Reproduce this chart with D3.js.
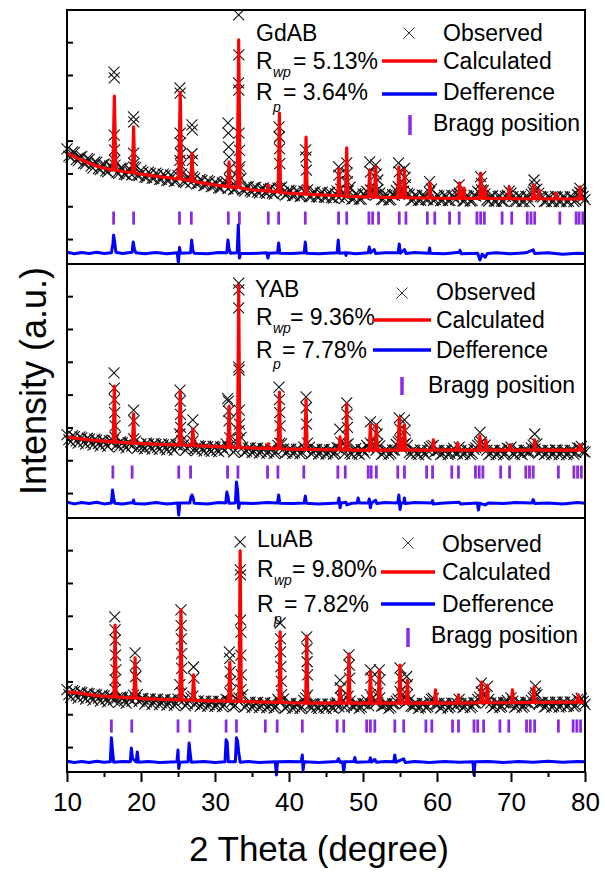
<!DOCTYPE html>
<html><head><meta charset="utf-8">
<script src="https://cdn.jsdelivr.net/npm/d3@7"></script>
<style>
body{margin:0;background:#fff}
svg{display:block}
text{font-family:Arial,"Liberation Sans",Helvetica,sans-serif;fill:#000}
</style>
</head><body>
<svg id="c" width="605" height="874"></svg>
<script>
// ---------------- DATA ----------------
const xTicks = [10,20,30,40,50,60,70,80];
const xMinorTicks = [15,25,35,45,55,65,75];
const yTicks = [0,10,20,30,40,50,60];
const samples = ["GdAB","YAB","LuAB"];
const rwpValues = ["= 5.13%","= 9.36%","= 9.80%"];
const rpValues = ["= 3.64%","= 7.78%","= 7.82%"];
const legendLabels = ["Observed","Calculated","Defference","Bragg position"];
const xTitle = "2 Theta (degree)";
const yTitle = "Intensity (a.u.)";

// observed background band: grid A from 10.00 deg, grid B from 10.25 deg, both every 0.5 deg
const bandStartA = 10, bandStartB = 10.25, bandStep = 0.5;
const obsBandGd = [
27.5,25.0,26.4,23.8,25.2,22.9,24.3,21.6,23.4,21.2,
22.8,20.5,22.0,22.5,20.0,21.5,19.6,21.2,22.0,19.4,
20.9,18.9,20.4,18.6,20.1,18.2,19.8,17.9,19.5,17.6,
19.3,19.8,17.2,18.7,19.0,16.8,18.2,16.3,17.8,16.0,
17.4,15.6,17.1,17.5,18.0,15.1,17.0,18.5,14.6,16.0,
14.3,15.8,14.1,15.6,13.9,15.4,13.7,15.5,15.8,13.4,
14.9,13.2,14.7,13.0,14.6,15.0,12.9,14.4,12.8,14.3,
12.7,14.2,12.5,14.6,15.2,12.4,14.8,12.2,13.8,12.1,
13.7,14.5,15.0,14.2,15.1,12.0,13.6,11.9,13.5,14.8,
15.2,14.6,13.9,11.8,13.4,11.8,13.4,12.0,14.2,11.8,
13.4,11.7,13.3,11.7,13.3,12.0,14.1,11.6,13.2,11.6,
13.3,14.5,15.0,13.8,11.6,13.2,11.5,13.1,11.5,13.4,
14.0,11.5,13.1,11.4,13.0,11.4,14.3,15.2,13.0,11.4,
13.0,11.4,13.0,11.4,12.9,11.4,12.9,11.4,13.5,14.0,
12.0];
const obsBandGdB = [
25.3,26.6,24.2,25.0,23.1,24.5,22.2,23.5,21.5,22.6,
20.8,22.3,21.5,20.2,21.6,19.8,21.0,19.6,21.8,19.3,
20.4,18.8,20.0,18.5,19.7,18.2,19.4,17.9,19.1,17.7,
24.0,17.5,18.8,17.2,18.5,16.9,17.9,16.5,17.5,16.2,
16.9,15.5,16.7,15.4,16.3,15.2,21.0,15.0,15.9,14.7,
15.6,14.4,15.3,14.2,15.1,14.0,14.9,15.5,14.3,13.8,
14.6,13.3,14.4,13.2,14.3,12.9,14.2,12.9,14.0,12.8,
13.9,12.6,13.8,12.7,14.0,13.2,15.8,12.3,13.5,12.2,
13.4,13.9,14.8,13.5,14.0,12.1,13.4,12.0,13.3,16.0,
14.2,16.5,13.6,12.0,13.2,11.9,13.2,12.0,15.2,12.0,
13.1,11.8,13.1,11.8,13.0,13.5,13.4,11.7,13.0,11.7,
13.1,14.0,14.8,11.9,13.0,11.6,13.0,11.6,13.0,14.6,
12.9,11.5,12.9,11.5,12.9,13.6,14.8,14.0,12.8,11.5,
12.8,11.5,12.8,11.5,12.8,11.5,12.8,11.8,14.3,13.0];
const obsBandY = [
17.8,15.6,17.2,15.2,16.8,14.9,16.4,14.6,16.1,14.4,
15.9,14.2,15.6,17.0,14.0,15.4,13.8,15.2,16.5,13.6,
15.0,13.5,14.9,13.4,14.8,13.3,14.7,13.2,14.6,13.1,
14.5,16.0,13.0,14.3,15.8,12.9,14.2,12.8,14.1,12.7,
14.0,12.6,13.9,15.0,16.8,12.5,15.5,17.0,12.4,13.7,
12.3,13.6,12.2,13.5,12.2,13.4,12.1,14.5,15.0,12.1,
13.3,12.0,13.3,12.0,14.0,15.2,12.0,13.2,11.9,13.2,
11.9,13.1,11.9,13.8,15.5,12.0,15.0,11.8,13.5,11.8,
13.1,14.5,15.2,14.0,15.0,11.8,13.1,11.8,13.1,14.8,
16.0,14.8,14.5,11.8,13.0,11.7,13.0,11.7,13.8,14.5,
12.9,11.7,13.0,11.7,13.0,12.2,14.0,11.7,13.0,11.7,
13.3,14.5,15.5,14.6,11.7,13.0,11.7,13.0,11.7,13.6,
14.0,11.7,13.0,11.7,13.0,12.5,14.6,15.0,12.9,11.7,
13.0,11.7,13.2,11.7,13.0,11.7,13.0,11.8,13.8,14.2,
12.5];
const obsBandYB = [
16.3,17.5,15.9,17.1,15.6,16.7,15.3,16.4,15.1,16.1,
14.9,15.9,16.0,14.8,15.6,14.5,15.4,14.3,15.8,14.2,
14.1,15.2,14.0,15.1,13.9,15.0,13.8,14.9,13.7,14.8,
18.0,14.7,13.6,14.6,13.5,14.4,13.4,14.3,13.2,14.2,
13.1,14.1,13.0,14.0,15.0,13.0,19.0,13.9,12.8,13.8,
12.7,13.7,12.6,13.6,12.6,13.5,12.5,15.2,13.4,12.5,
13.4,12.4,13.4,12.4,13.3,13.9,12.4,13.3,12.3,13.3,
12.3,13.2,12.3,13.7,13.3,14.6,12.2,13.2,12.2,13.2,
12.2,13.8,14.6,13.1,14.4,12.2,13.1,12.2,13.1,15.6,
13.6,15.2,12.3,13.1,12.1,13.1,12.1,13.0,14.2,12.6,
13.0,12.1,13.0,12.1,13.6,12.1,13.0,12.1,13.0,12.1,
13.8,15.0,14.0,13.1,12.1,13.0,12.1,13.0,12.1,13.4,
12.1,13.0,12.1,13.0,12.4,13.8,13.4,12.1,13.0,12.1,
13.0,12.1,13.0,12.1,13.0,12.1,13.0,12.4,13.6,12.7];
const obsBandLu = [
17.5,15.2,16.9,14.9,16.6,14.6,16.2,14.3,15.9,14.0,
15.6,13.8,15.4,17.5,13.6,15.1,13.4,14.9,15.8,16.0,
14.7,13.1,14.6,13.0,14.5,12.9,14.4,12.8,14.3,12.7,
14.6,16.5,12.6,14.1,15.5,13.5,12.5,14.0,12.4,13.9,
12.4,13.9,12.3,14.5,16.5,12.3,14.5,17.5,12.2,13.6,
12.1,13.5,12.0,13.4,12.0,13.3,11.9,14.5,16.0,11.9,
13.2,11.8,13.2,11.8,14.2,15.8,11.8,13.1,11.8,13.1,
11.8,13.1,11.8,13.5,15.0,12.0,15.5,12.5,13.1,11.8,
13.2,14.2,16.0,14.0,16.5,12.5,13.2,11.8,13.2,14.0,
17.0,15.0,16.0,12.5,13.2,11.8,13.3,12.0,13.8,14.8,
13.0,11.9,13.3,11.9,13.4,12.5,14.5,12.0,13.4,12.0,
13.5,14.5,16.8,15.5,14.5,12.0,13.5,12.1,13.5,14.2,
15.0,12.1,13.6,12.1,13.6,13.0,15.0,16.0,13.5,12.2,
13.7,12.2,13.7,12.2,13.7,12.3,13.8,12.3,14.5,14.8,
13.0];
const obsBandLuB = [
16.0,17.2,15.7,16.8,15.4,16.4,15.1,16.1,14.9,15.8,
14.6,15.5,14.4,14.9,15.3,14.1,15.0,14.0,14.9,13.9,
14.8,13.7,14.7,13.6,14.6,13.5,14.5,13.4,14.4,13.3,
19.0,14.3,13.2,15.0,13.1,14.1,13.0,14.0,12.9,13.9,
12.8,13.9,12.8,14.2,13.7,12.7,15.0,16.0,12.6,13.7,
12.6,13.6,12.5,13.5,12.4,13.4,12.4,13.9,14.6,12.3,
13.3,12.3,13.2,12.2,15.0,12.8,13.2,12.2,13.1,12.2,
13.1,12.2,13.1,12.3,14.2,12.7,14.0,12.3,13.2,12.2,
13.2,12.6,14.9,13.5,15.0,12.6,13.2,12.2,13.2,14.6,
15.8,13.5,14.2,12.3,13.2,12.2,13.3,12.3,14.5,13.0,
13.3,12.3,13.3,12.3,13.3,13.2,13.3,12.3,13.4,12.4,
13.4,15.2,15.8,13.6,13.4,12.4,13.5,12.4,13.5,13.0,
14.0,12.5,13.5,12.5,13.6,14.2,15.3,13.2,13.6,12.5,
13.6,12.5,13.7,12.5,13.7,12.6,13.7,12.6,14.0,13.9];

// observed points on the peaks [2theta, intensity]
const obsPeakGd = [[16.35,50.9],[16.4,49.1],[16.38,31.7],[16.42,27.2],[16.45,24.0],
[18.98,37.2],[19.02,35.7],[19.0,26.2],[19.05,23.0],
[25.25,46.1],[25.3,44.5],[25.28,32.3],[25.32,29.3],[25.35,26.0],[25.4,22.5],
[26.88,34.8],[26.92,33.3],[26.9,26.0],[26.95,24.0],
[31.75,35.4],[31.8,32.3],[31.85,28.1],[31.9,25.0],[31.95,21.5],
[33.2,68.3],[33.22,56.1],[33.18,47.6],[33.22,45.4],[33.25,32.3],[33.3,27.0],[33.35,22.0],
[38.65,34.2],[38.7,31.1],[38.72,27.5],[38.75,23.0],
[42.25,27.2],[42.3,25.0],[42.35,21.0],
[46.7,22.0],[46.75,19.5],
[47.8,23.2],[47.85,20.1],[47.9,17.5],
[50.9,23.5],[51.0,20.5],[51.7,22.6],[51.8,19.8],[52.0,18.0],
[54.8,23.2],[54.9,20.5],[55.6,21.5],[55.7,18.8],
[59.0,17.5],[63.0,16.5],[65.9,19.0],[66.0,17.0],[73.1,18.0],[73.2,16.5],[79.3,15.5]];
const obsPeakY = [[16.35,36.6],[16.4,32.0],[16.42,28.5],[16.45,24.5],[16.5,20.5],
[19.0,25.3],[19.05,22.0],
[25.28,31.4],[25.3,28.0],[25.33,24.0],[25.36,20.0],
[27.0,22.3],[27.05,19.5],
[31.7,28.8],[31.8,28.0],[31.85,25.0],[31.9,22.0],
[33.2,64.0],[33.22,61.9],[33.2,56.4],[33.22,38.4],[33.25,37.5],[33.28,25.3],[33.3,21.0],
[38.65,32.3],[38.7,28.5],[38.75,24.5],[38.8,20.5],
[42.3,29.3],[42.33,26.0],[42.38,21.0],
[46.85,19.5],
[47.8,27.5],[47.85,24.0],[47.9,20.0],
[51.0,21.7],[51.8,20.8],[51.9,18.0],
[54.9,22.9],[55.0,19.5],[55.6,22.3],[55.7,19.0],
[65.8,18.5],[73.2,18.0]];
const obsPeakLu = [[16.45,39.7],[16.5,35.7],[16.52,32.6],[16.55,28.0],[16.6,23.5],[16.5,20.5],
[19.2,28.7],[19.25,25.0],[19.3,21.5],
[25.4,41.8],[25.42,37.0],[25.45,33.0],[25.48,28.5],[25.5,24.0],
[27.1,24.4],[27.15,21.0],
[31.95,29.0],[32.0,27.0],[32.05,23.0],[32.1,20.0],
[33.4,62.5],[33.42,54.0],[33.45,52.5],[33.45,38.7],[33.5,35.0],[33.5,28.0],[33.55,22.0],
[38.8,37.8],[38.85,33.0],[38.85,29.0],[38.9,24.5],[38.95,20.0],
[42.4,33.6],[42.45,30.0],[42.45,26.0],[42.5,22.0],
[46.9,20.4],[46.95,18.0],
[48.1,28.1],[48.15,25.0],[48.2,21.0],
[51.0,23.5],[51.1,21.0],[52.2,23.5],[52.3,20.5],
[55.0,24.1],[55.1,21.0],[55.9,21.5],[56.0,19.0],
[66.0,19.5],[66.8,18.5],[73.3,18.6],[73.3,16.5]];

// calculated profiles [2theta, intensity]
const calcGd = [[10,26.2],[11,25.1],[12,24.1],[13,23.1],[14,22.3],[15,21.6],[16.2,21.0],[16.4,43.6],[16.6,20.9],[18,20.5],[18.85,20.3],[19.0,34.2],[19.15,20.2],[20,19.8],[22,19.2],[24,18.6],[25.1,18.3],[25.3,44.8],[25.5,18.2],[26.75,17.8],[26.9,26.2],[27.05,17.7],[28,17.2],[30,16.5],[31.75,16.0],[31.9,23.5],[32.05,15.9],[33.0,15.7],[33.2,60.7],[33.4,15.6],[35,15.0],[37.1,14.6],[37.2,16.5],[37.3,14.6],[38.55,14.4],[38.7,38.4],[38.85,14.3],[40,14.0],[42.15,13.7],[42.3,31.1],[42.45,13.6],[45,13.4],[46.6,13.2],[46.75,21.5],[46.9,13.2],[47.65,13.1],[47.8,27.8],[47.95,13.0],[50.75,12.8],[50.9,21.1],[51.05,12.9],[51.55,12.8],[51.7,22.0],[51.85,12.8],[54.7,12.6],[54.85,22.0],[55.0,12.7],[55.45,12.7],[55.6,21.1],[55.75,12.6],[58.9,12.5],[59.05,17.1],[59.2,12.5],[62.9,12.4],[63.05,17.1],[63.2,12.4],[63.55,12.4],[63.65,15.5],[63.75,12.4],[65.75,12.4],[65.9,20.1],[66.05,12.5],[66.4,12.4],[66.5,15.5],[66.6,12.4],[69.6,12.3],[69.75,16.0],[69.9,12.3],[72.9,12.2],[73.05,16.5],[73.2,12.3],[73.7,12.3],[73.8,15.0],[73.9,12.3],[76.0,12.2],[76.1,14.0],[76.2,12.2],[79.2,12.2],[79.35,15.9],[79.5,12.2],[80,12.2]];
const calcY = [[10,17.1],[11.5,16.6],[13,16.2],[14.5,15.9],[16.25,15.6],[16.4,32.6],[16.55,15.5],[18.85,15.2],[19.0,24.1],[19.15,15.2],[21,15.0],[23,14.8],[25.15,14.7],[25.3,31.1],[25.45,14.7],[26.85,14.5],[27.0,19.5],[27.15,14.5],[29,14.3],[31.75,14.0],[31.9,26.5],[32.05,14.0],[33.05,13.9],[33.2,63.4],[33.35,13.9],[35,13.7],[37.1,13.6],[37.2,15.0],[37.3,13.6],[38.55,13.5],[38.7,30.8],[38.85,13.5],[40,13.4],[42.15,13.3],[42.3,28.4],[42.45,13.3],[45,13.2],[46.75,13.2],[46.9,17.1],[47.05,13.2],[47.65,13.2],[47.8,27.2],[47.95,13.1],[50.85,13.1],[51.0,20.8],[51.15,13.1],[51.65,13.1],[51.8,20.8],[51.95,13.1],[54.75,13.1],[54.9,22.9],[55.05,13.1],[55.45,13.1],[55.6,20.8],[55.75,13.1],[59.35,13.1],[59.5,16.2],[59.65,13.1],[62.65,13.1],[62.8,15.3],[62.95,13.1],[65.65,13.1],[65.8,17.4],[65.95,13.1],[66.45,13.1],[66.6,16.2],[66.75,13.1],[69.75,13.1],[69.9,14.7],[70.05,13.1],[73.05,13.1],[73.2,16.2],[73.35,13.1],[79.15,13.1],[79.3,14.7],[79.45,13.1],[80,13.1]];
const calcLu = [[10,16.8],[11.5,16.5],[13,16.0],[14.5,15.6],[16.35,15.3],[16.5,37.2],[16.65,15.3],[19.05,14.9],[19.2,27.2],[19.35,14.9],[21,14.7],[23,14.5],[25.25,14.4],[25.4,41.8],[25.55,14.3],[26.95,14.3],[27.1,22.0],[27.25,14.2],[29,14.1],[31.85,14.0],[32.0,25.9],[32.15,14.0],[33.25,13.9],[33.4,59.8],[33.55,13.9],[35,13.8],[38.65,13.6],[38.8,35.1],[38.95,13.6],[40,13.5],[42.25,13.4],[42.4,33.9],[42.55,13.4],[45,13.4],[46.75,13.4],[46.9,18.3],[47.05,13.4],[47.95,13.4],[48.1,28.4],[48.25,13.4],[50.85,13.4],[51.0,22.9],[51.15,13.4],[52.05,13.4],[52.2,23.5],[52.35,13.4],[54.85,13.4],[55.0,25.0],[55.15,13.4],[55.85,13.4],[56.0,20.4],[56.15,13.4],[59.65,13.4],[59.8,17.4],[59.95,13.4],[62.75,13.4],[62.9,15.9],[63.05,13.4],[65.85,13.5],[66.0,19.8],[66.15,13.5],[66.65,13.5],[66.8,18.9],[66.95,13.5],[70.05,13.5],[70.2,17.4],[70.35,13.5],[72.95,13.6],[73.1,18.3],[73.25,13.6],[78.95,13.7],[79.1,15.9],[79.25,13.7],[80,13.7]];

// difference curves [2theta, intensity]
const diffGd = [[10,-4.0],[11,-4.5],[12,-4.1],[13,-4.4],[14,-4.0],[15,-4.4],[16.0,-4.2],[16.2,-1.5],[16.3,1.2],[16.45,-1.0],[16.6,-4.0],[17.5,-4.4],[18.8,-4.0],[18.95,-0.9],[19.1,-3.0],[19.3,-4.2],[20.5,-4.5],[22,-4.1],[23.5,-4.5],[24.9,-4.2],[25.05,-7.3],[25.2,-2.6],[25.35,-4.3],[26.7,-4.2],[26.85,-0.3],[27.0,-3.5],[27.2,-4.3],[29,-4.5],[30.5,-4.1],[31.6,-4.2],[31.75,-0.3],[31.9,-3.0],[32.1,-4.3],[33.0,-4.2],[33.15,4.3],[33.3,-5.8],[33.45,-4.3],[35,-4.4],[37.0,-4.2],[37.15,-5.8],[37.3,-4.3],[38.45,-4.2],[38.6,-1.2],[38.75,-4.3],[40.5,-4.4],[42.05,-4.2],[42.2,-0.9],[42.35,-4.3],[44,-4.5],[46.5,-4.2],[46.65,-0.3],[46.8,-4.3],[47.6,-4.2],[47.7,-5.0],[47.8,-4.2],[49,-4.5],[50.7,-4.2],[50.85,-2.4],[51.0,-4.2],[51.5,-3.2],[51.7,-4.4],[53,-4.2],[54.75,-4.2],[54.9,-1.5],[55.05,-4.3],[55.6,-3.2],[55.8,-4.4],[57,-4.1],[58.9,-4.3],[59.0,-2.7],[59.1,-4.3],[61,-4.5],[63.0,-4.0],[63.1,-3.4],[63.3,-4.5],[65.5,-4.3],[65.8,-6.4],[66.1,-4.6],[66.5,-5.5],[66.8,-4.4],[68,-4.2],[70,-4.5],[72,-4.2],[73.0,-3.3],[73.2,-4.4],[75,-4.2],[77,-4.6],[79,-4.3],[80,-4.4]];
const diffY = [[10,-2.8],[11,-3.3],[12,-2.9],[13,-3.2],[14,-2.8],[15,-3.3],[16.0,-3.0],[16.15,0.9],[16.3,-1.5],[16.45,-3.1],[17.5,-3.3],[18.9,-2.9],[19.0,-2.1],[19.1,-3.2],[20.5,-3.3],[22,-2.9],[23.5,-3.3],[24.95,-3.0],[25.1,-6.7],[25.25,-3.0],[26.6,-3.0],[26.75,-1.2],[26.9,-0.6],[27.05,-1.5],[27.2,-3.1],[29,-3.3],[30.5,-2.9],[31.45,-3.0],[31.6,0.3],[31.75,-1.0],[31.9,-3.1],[32.75,-3.0],[32.9,3.4],[33.05,1.0],[33.2,-4.6],[33.35,-3.0],[35,-3.2],[37,-2.9],[38.45,-3.0],[38.6,-0.6],[38.75,-3.1],[40.5,-3.2],[42.05,-3.0],[42.2,-0.9],[42.35,-3.1],[44,-3.3],[46.6,-3.0],[46.75,-1.5],[46.9,-4.5],[47.05,-3.0],[47.7,-2.8],[47.8,-3.6],[48.5,-3.1],[49.2,-3.0],[49.35,-1.5],[49.5,-3.0],[50.7,-3.0],[50.85,-1.8],[51.0,-4.5],[51.15,-3.0],[51.7,-2.2],[51.85,-3.2],[53,-2.9],[54.7,-3.0],[54.85,-0.6],[55.0,-5.0],[55.15,-3.0],[55.5,-3.0],[55.6,-1.5],[55.7,-3.2],[57,-2.9],[59.3,-3.0],[59.4,-2.3],[59.5,-3.3],[61,-3.0],[63,-2.8],[63.2,-3.3],[65.45,-3.0],[65.6,-5.2],[65.75,-3.1],[66.5,-3.6],[67,-3.0],[69,-3.2],[70.5,-2.9],[72.8,-3.0],[73.0,-2.0],[73.2,-3.2],[75,-3.0],[77,-3.3],[79,-2.9],[80,-3.1]];
const diffLu = [[10,-4.3],[11,-4.7],[12,-4.4],[13,-4.7],[14,-4.3],[15,-4.6],[15.85,-4.5],[16.0,2.8],[16.15,-1.0],[16.3,-4.6],[17.5,-4.4],[18.55,-4.5],[18.7,-0.3],[18.85,-3.5],[19.35,-4.5],[19.5,-1.5],[19.65,-4.6],[21,-4.4],[22.5,-4.7],[24.85,-4.5],[25.0,-0.9],[25.1,-6.5],[25.25,-4.6],[26.35,-4.5],[26.5,1.2],[26.65,-2.0],[26.8,-4.6],[28.5,-4.4],[30,-4.7],[31.35,-4.5],[31.5,2.2],[31.65,1.5],[31.8,-4.5],[32.75,-4.5],[32.9,2.8],[33.05,1.8],[33.2,-1.5],[33.4,-4.6],[34.5,-4.4],[36,-4.7],[38.15,-4.5],[38.3,-8.5],[38.45,-4.5],[40,-4.4],[41.65,-4.5],[41.8,-2.4],[41.9,-7.0],[42.05,-4.5],[44,-4.7],[46.5,-4.4],[46.7,-3.5],[46.85,-4.6],[47.25,-4.5],[47.4,-7.6],[47.55,-4.5],[48.75,-4.4],[48.9,-3.2],[49.05,-4.6],[50.85,-4.5],[51.0,-3.3],[51.15,-4.6],[51.6,-3.8],[51.8,-4.6],[53,-4.4],[54.15,-4.5],[54.3,-2.4],[54.45,-4.6],[55.5,-3.6],[55.7,-4.7],[57,-4.4],[59,-4.7],[61,-4.4],[63,-4.6],[64.85,-4.5],[65.0,-8.5],[65.15,-4.5],[67,-4.4],[69,-4.7],[71,-4.4],[73,-4.6],[75,-4.3],[77,-4.6],[79,-4.4],[80,-4.5]];

// Bragg reflection positions (2theta)
const braggGd = [16.3,19.0,25.2,26.8,31.8,33.3,37.2,38.6,42.2,46.7,47.8,50.8,51.3,52.1,54.9,55.8,58.7,59.7,61.7,63.0,65.4,65.9,66.4,68.8,70.1,72.2,72.7,73.2,76.6,78.8,79.2,79.7];
const braggY = [16.2,18.8,25.1,26.7,31.7,33.1,37.1,38.5,42.0,46.6,47.6,50.7,51.1,51.8,54.7,55.6,58.6,59.4,62.0,62.9,65.2,65.7,66.2,68.6,69.8,72.0,72.5,73.0,76.4,78.5,79.0,79.5];
const braggLu = [16.0,18.75,25.0,26.6,31.5,32.9,36.8,38.4,41.8,46.5,47.4,50.5,51.0,51.6,54.3,55.5,58.5,59.3,62.1,62.9,65.0,65.5,66.3,68.5,69.7,72.1,72.6,73.2,76.4,78.4,78.9,79.4];

// ---------------- DRAWING ----------------
const X0 = 67, X1 = 585, PH = 254;
const panelTops = [10, 264, 518];
const yDomain = [-7.6, 69.8];
const BRAGG_LO = 4.4, BRAGG_HI = 8.4;
const svg = d3.select('#c');
const x = d3.scaleLinear().domain([10, 80]).range([X0, X1]);
const xmark = r => `M${-r},${-r}L${r},${r}M${-r},${r}L${r},${-r}`;

const panels = [
  {bandA: obsBandGd, bandB: obsBandGdB, peaks: obsPeakGd, calc: calcGd, diff: diffGd, bragg: braggGd,
   lay: {name:[256,41], R1:[256,69], sub1:[273,77], eq1:[293,69], R2:[256,100], sub2:[273,112], eq2:[283,100],
         mark:[409,33], obs:[443,41], red:[382,437,61], calc:[443,69], blue:[382,437,94], def:[443,100], tick:[410,115,135], bragg:[433,131]}},
  {bandA: obsBandY, bandB: obsBandYB, peaks: obsPeakY, calc: calcY, diff: diffY, bragg: braggY,
   lay: {name:[255,297], R1:[256,325], sub1:[273,333], eq1:[290,325], R2:[256,358], sub2:[273,369], eq2:[282,358],
         mark:[402,293], obs:[436,300], red:[373,431,320], calc:[436,328], blue:[373,431,350], def:[436,358], tick:[402,377,395], bragg:[428,393]}},
  {bandA: obsBandLu, bandB: obsBandLuB, peaks: obsPeakLu, calc: calcLu, diff: diffLu, bragg: braggLu,
   lay: {name:[257,547], R1:[257,577], sub1:[274,585], eq1:[292,577], R2:[257,612], sub2:[274,624], eq2:[284,612],
         mark:[408,543], obs:[442,552], red:[381,435,572], calc:[442,580], blue:[381,435,604], def:[442,612], tick:[408,628,647], bragg:[431,643]}}
];

const FS = 23;
panels.forEach((p, i) => {
  const top = panelTops[i];
  const y = d3.scaleLinear().domain(yDomain).range([top + PH, top]);
  const g = svg.append('g');

  // observed
  const obs = p.bandA.map((v, k) => [bandStartA + k * bandStep, v])
    .concat(p.bandB.map((v, k) => [bandStartB + k * bandStep, v]))
    .concat(p.peaks);
  g.append('g').selectAll('path').data(obs).join('path')
    .attr('d', xmark(5.5))
    .attr('transform', d => `translate(${x(d[0])},${y(d[1])})`)
    .attr('fill', 'none').attr('stroke', '#111').attr('stroke-width', 1.1);

  // calculated
  const line = d3.line().x(d => x(d[0])).y(d => y(d[1]));
  g.append('path').datum(p.calc).attr('d', line)
    .attr('fill', 'none').attr('stroke', '#ff0000').attr('stroke-width', 3.2)
    .attr('stroke-linejoin', 'round');

  // bragg
  g.append('g').selectAll('line').data(p.bragg).join('line')
    .attr('x1', d => x(d)).attr('x2', d => x(d))
    .attr('y1', y(BRAGG_LO)).attr('y2', y(BRAGG_HI))
    .attr('stroke', '#8a2be2').attr('stroke-width', 2.8);

  // difference
  g.append('path').datum(p.diff).attr('d', line)
    .attr('fill', 'none').attr('stroke', '#0000ff').attr('stroke-width', 3)
    .attr('stroke-linejoin', 'round');

  // y ticks (inward)
  g.append('g').attr('transform', `translate(${X0},0)`)
    .call(d3.axisRight(y).tickValues(yTicks).tickSize(6).tickFormat(''))
    .call(a => a.select('.domain').remove())
    .selectAll('line').attr('stroke', '#000').attr('stroke-width', 2);

  // frame
  g.append('rect').attr('x', X0).attr('y', top).attr('width', X1 - X0).attr('height', PH)
    .attr('fill', 'none').attr('stroke', '#000').attr('stroke-width', 2);

  // annotations
  const L = p.lay;
  const t = (xy, s, size, italic) => g.append('text').attr('x', xy[0]).attr('y', xy[1])
    .style('font-size', (size || FS) + 'px').style('font-style', italic ? 'italic' : 'normal').text(s);
  t(L.name, samples[i]);
  t(L.R1, 'R'); t(L.sub1, 'wp', 14, true); t(L.eq1, rwpValues[i]);
  t(L.R2, 'R'); t(L.sub2, 'p', 14, true); t(L.eq2, rpValues[i]);
  g.append('path').attr('d', xmark(5.5)).attr('transform', `translate(${L.mark[0]},${L.mark[1]})`)
    .attr('fill', 'none').attr('stroke', '#333').attr('stroke-width', 1);
  t(L.obs, legendLabels[0]);
  g.append('line').attr('x1', L.red[0]).attr('x2', L.red[1]).attr('y1', L.red[2]).attr('y2', L.red[2])
    .attr('stroke', '#ff0000').attr('stroke-width', 3.5);
  t(L.calc, legendLabels[1]);
  g.append('line').attr('x1', L.blue[0]).attr('x2', L.blue[1]).attr('y1', L.blue[2]).attr('y2', L.blue[2])
    .attr('stroke', '#0000ff').attr('stroke-width', 3.5);
  t(L.def, legendLabels[2]);
  g.append('line').attr('x1', L.tick[0]).attr('x2', L.tick[0]).attr('y1', L.tick[1]).attr('y2', L.tick[2])
    .attr('stroke', '#8a2be2').attr('stroke-width', 3.5);
  t(L.bragg, legendLabels[3]);
});

// x axis
const axY = panelTops[2] + PH;
const ax = svg.append('g').attr('transform', `translate(0,${axY})`)
  .call(d3.axisBottom(x).tickValues(xTicks).tickSize(10).tickPadding(11).tickFormat(d3.format('d')));
ax.select('.domain').remove();
ax.selectAll('line').attr('stroke', '#000').attr('stroke-width', 2);
ax.selectAll('text').style('font-size', '26px').style('font-family', 'Arial, "Liberation Sans", sans-serif').attr('fill', '#000');
const axm = svg.append('g').attr('transform', `translate(0,${axY})`)
  .call(d3.axisBottom(x).tickValues(xMinorTicks).tickSize(5).tickFormat(''));
axm.select('.domain').remove();
axm.selectAll('line').attr('stroke', '#000').attr('stroke-width', 2);

svg.append('text').attr('x', 319).attr('y', 861).attr('text-anchor', 'middle')
  .style('font-size', '35px').text(xTitle);
svg.append('text').attr('transform', 'translate(46,381) rotate(-90)').attr('text-anchor', 'middle')
  .style('font-size', '36px').text(yTitle);
</script>
</body></html>
